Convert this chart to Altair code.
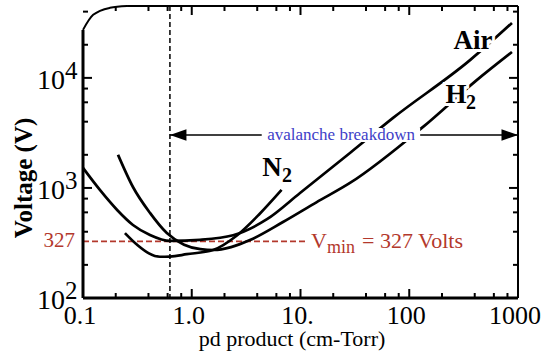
import altair as alt
import pandas as pd

# ---------------- data ----------------
air_pd = [0.1, 0.143, 0.206, 0.288, 0.413, 0.63, 1.19, 2.4, 4.92, 9.9, 28.5, 71, 362, 880]
air_v = [1520, 959, 631, 461, 374, 330, 338, 372, 520, 900, 2080, 4330, 14500, 31600]

h2_pd = [0.21, 0.288, 0.413, 0.59, 0.85, 1.2, 1.6, 2.3, 3.43, 6.9, 14, 28.5, 134, 420, 880]
h2_v = [2000, 1020, 593, 389, 305, 278, 273, 290, 336, 490, 740, 1110, 3590, 9600, 17200]

n2_pd = [0.243, 0.32, 0.4, 0.51, 0.63, 0.9, 1.57, 2.6, 4.2, 6.7]
n2_v = [389, 300, 256, 237, 238, 250, 273, 370, 580, 960]

# frame corner (rounded top-left edge of the plot box)
corner_pd = [0.1, 0.124, 0.177, 0.254]
corner_v = [27300, 37400, 43300, 45000]

x_domain = [0.1, 1000]
y_domain = [100, 45000]

x_major = [0.1, 1, 10, 100, 1000]
x_major_labels = ["0.1", "1.0", "10.", "100", "1000"]
x_minor = [0.2, 0.4, 0.6, 0.8, 2, 4, 6, 8, 20, 40, 60, 80, 200, 400, 600, 800]
y_major = [100, 1000, 10000]
y_major_exp = ["2", "3", "4"]
y_minor = [200, 400, 600, 800, 2000, 4000, 6000, 8000, 20000, 40000]

vmin = 327
vmin_pd = 0.63           # vertical dashed line
vmin_line_end = 11.5     # red dashed line ends at the "Vmin" text
aval_v = 3030            # avalanche breakdown arrow level
aval_text_pd = 23.6
aval_gap = [4.4, 126.0, 2620, 3500]   # white box behind the text

gas_labels = ["Air", "H", "N"]
gas_label_pd = [385, 269, 5.47]
gas_label_v = [21700, 7000, 1520]
gas_sub = ["", "2", "2"]

# ---------------- build tables ----------------
rows = []
for name, xs_, ys_ in [("Air", air_pd, air_v), ("H2", h2_pd, h2_v), ("N2", n2_pd, n2_v)]:
    for i, (a, b) in enumerate(zip(xs_, ys_)):
        rows.append({"gas": name, "x": a, "y": b, "i": i})
curves_df = pd.DataFrame(rows)
corner_df = pd.DataFrame({"x": corner_pd, "y": corner_v, "i": range(len(corner_pd))})

xs = alt.Scale(type="log", domain=x_domain, nice=False)
ys = alt.Scale(type="log", domain=y_domain, nice=False)
X = lambda f="x:Q": alt.X(f, scale=xs, axis=None)
Y = lambda f="y:Q": alt.Y(f, scale=ys, axis=None)

SERIF = "Liberation Serif"
RED = "#b3382c"
BLUE = "#4040c8"
H, W = 292, 435

vline = alt.Chart(pd.DataFrame({"x": [vmin_pd]})).mark_rule(
    color="black", strokeWidth=1.5, strokeDash=[5, 3]
).encode(x=X())

redline = alt.Chart(pd.DataFrame({"x": [x_domain[0]], "x2": [vmin_line_end], "y": [vmin]})).mark_rule(
    color=RED, strokeWidth=1.6, strokeDash=[6, 3]
).encode(x=X(), x2="x2:Q", y=Y())

arrow = alt.Chart(pd.DataFrame({"x": [vmin_pd], "x2": [x_domain[1]], "y": [aval_v]})).mark_rule(
    color="black", strokeWidth=1.5
).encode(x=X(), x2="x2:Q", y=Y())

curves = alt.Chart(curves_df).mark_line(
    color="black", strokeWidth=2.7, interpolate="monotone"
).encode(x=X(), y=Y(), detail="gas:N", order="i:Q")

gap = alt.Chart(pd.DataFrame({"x": [aval_gap[0]], "x2": [aval_gap[1]], "y": [aval_gap[2]], "y2": [aval_gap[3]]})).mark_rect(
    color="white"
).encode(x=X(), x2="x2:Q", y=Y(), y2="y2:Q")

heads = alt.Chart(pd.DataFrame({"x": [vmin_pd, x_domain[1]], "y": [aval_v, aval_v], "d": ["l", "r"]})).mark_point(
    filled=True, color="black", opacity=1, size=900, strokeWidth=0
).encode(
    x=X(), y=Y(),
    shape=alt.Shape("d:N", scale=alt.Scale(domain=["l", "r"], range=["M0,0L1.1,-0.38L1.1,0.38Z", "M0,0L-1.1,-0.38L-1.1,0.38Z"]), legend=None),
)

aval_df = pd.DataFrame({"x": [aval_text_pd], "y": [aval_v], "t": ["avalanche breakdown"]})
aval_text = alt.Chart(aval_df).mark_text(font=SERIF, fontSize=17, color=BLUE, baseline="middle").encode(
    x=X(), y=Y(), text="t:N")

gl_df = pd.DataFrame({"x": gas_label_pd, "y": gas_label_v, "t": gas_labels, "s": gas_sub})
def gas_text(halo):
    kw = dict(stroke="white", strokeWidth=6, fill="white") if halo else dict(color="black")
    main = alt.Chart(gl_df).mark_text(font=SERIF, fontSize=27, fontWeight="bold", baseline="middle", **kw).encode(
        x=X(), y=Y(), text="t:N")
    sub = alt.Chart(gl_df).mark_text(font=SERIF, fontSize=20, fontWeight="bold", baseline="middle", align="left", dx=10, dy=8, **kw).encode(
        x=X(), y=Y(), text="s:N")
    return main + sub

vmin_df = pd.DataFrame({"x": [vmin_line_end], "y": [vmin]})
def vtxt(t, size, dx, dy):
    return alt.Chart(vmin_df).mark_text(font=SERIF, fontSize=size, color=RED, align="left", baseline="middle", dx=dx, dy=dy).encode(
        x=X(), y=Y(), text=alt.value(t))
vmin_text = vtxt("V", 22, 4, 0) + vtxt("min", 18, 20, 7) + vtxt("= 327 Volts", 22, 55, 0)

# frame
frame_df = pd.DataFrame({
    "x": [x_domain[0], x_domain[0], corner_pd[-1], x_domain[1]],
    "x2": [x_domain[1], x_domain[0], x_domain[1], x_domain[1]],
    "y": [y_domain[0], y_domain[0], y_domain[1], y_domain[0]],
    "y2": [y_domain[0], corner_v[0], y_domain[1], y_domain[1]],
    "w": [3, 3, 2, 2],
})
frame = alt.Chart(frame_df).mark_rule(color="black").encode(
    x=X(), x2="x2:Q", y=Y(), y2="y2:Q",
    strokeWidth=alt.StrokeWidth("w:Q", scale=None),
)
corner = alt.Chart(corner_df).mark_line(color="black", strokeWidth=2, interpolate="monotone").encode(
    x=X(), y=Y(), order="i:Q")

def xticks(vals, ln):
    d = pd.DataFrame({"x": vals})
    bot = alt.Chart(d).mark_rule(color="black", strokeWidth=2).encode(
        x=X(), y=alt.value(H), y2=alt.value(H - ln))
    top = alt.Chart(d).mark_rule(color="black", strokeWidth=2).encode(
        x=X(), y=alt.value(0), y2=alt.value(ln))
    return bot + top
def yticks(vals, ln):
    d = pd.DataFrame({"y": vals})
    lef = alt.Chart(d).mark_rule(color="black", strokeWidth=2).encode(
        y=Y(), x=alt.value(0), x2=alt.value(ln))
    rig = alt.Chart(d).mark_rule(color="black", strokeWidth=2).encode(
        y=Y(), x=alt.value(W), x2=alt.value(W - ln))
    return lef + rig
ticks = xticks(x_major[1:-1], 9) + xticks(x_minor, 5) + yticks(y_major[1:], 9) + yticks(y_minor, 5)

# x labels + title
xlab_df = pd.DataFrame({"x": x_major, "t": x_major_labels})
xlab = alt.Chart(xlab_df).mark_text(font=SERIF, fontSize=26, align="center", baseline="alphabetic", color="black", dx=-3).encode(
    x=X(), y=alt.value(H + 26), text="t:N")
xtitle = alt.Chart(pd.DataFrame({"t": ["pd product (cm-Torr)"]})).mark_text(
    font=SERIF, fontSize=22, align="center", baseline="alphabetic", color="black"
).encode(x=alt.value(209), y=alt.value(H + 48), text="t:N")

# y labels + title
ylab_df = pd.DataFrame({"y": y_major, "e": y_major_exp})
ylab10 = alt.Chart(ylab_df).mark_text(font=SERIF, fontSize=28, align="right", baseline="middle", dy=3, color="black").encode(
    y=Y(), x=alt.value(-18), text=alt.value("10"))
ylabexp = alt.Chart(ylab_df).mark_text(font=SERIF, fontSize=25, align="left", baseline="middle", dy=-7, color="black").encode(
    y=Y(), x=alt.value(-18), text="e:N")
ylab327 = alt.Chart(pd.DataFrame({"y": [vmin]})).mark_text(font=SERIF, fontSize=21, align="right", baseline="middle", color=RED).encode(
    y=Y(), x=alt.value(-8), text=alt.value(str(vmin)))
ytitle = alt.Chart(pd.DataFrame({"t": ["Voltage (V)"]})).mark_text(
    font=SERIF, fontSize=25, fontWeight="bold", angle=270, align="center", baseline="middle", color="black"
).encode(x=alt.value(-59), y=alt.value(172), text="t:N")

chart = alt.layer(
    vline, redline, arrow, curves, gap, heads, aval_text,
    gas_text(True), gas_text(False), vmin_text,
    frame, corner, ticks, xlab, xtitle, ylab10, ylabexp, ylab327, ytitle,
).properties(
    width=W, height=H,
    autosize=alt.AutoSizeParams(type="none"),
    padding={"left": 83, "top": 6, "right": 26, "bottom": 54},
    background="white",
).configure_view(stroke=None)

chart.save("out.html", embed_options={"renderer": "svg", "actions": False})
